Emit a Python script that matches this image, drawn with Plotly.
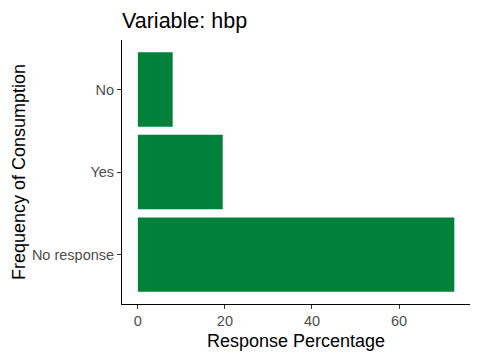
import plotly.graph_objects as go

categories = ["No response", "Yes", "No"]
percentages = [72.7, 19.5, 8.0]
x_ticks = [0, 20, 40, 60]

fig = go.Figure(go.Bar(
    y=categories, x=percentages, orientation="h",
    marker=dict(color="#00813A", line=dict(width=0)), width=0.9,
))

fig.update_layout(
    width=480, height=360,
    margin=dict(l=122, r=10, t=40, b=56),
    plot_bgcolor="white", paper_bgcolor="white",
    font=dict(family="Liberation Sans, Arial", color="black"),
    showlegend=False,
    title=dict(text="Variable: hbp", x=0, xref="paper", xanchor="left",
               y=1 - 20 / 360, yref="container", yanchor="middle",
               font=dict(size=21.5, color="black")),
    xaxis=dict(range=[-3.64, 76.3], tickvals=x_ticks, showgrid=False, zeroline=False,
               showline=True, linecolor="black", linewidth=1,
               ticks="outside", ticklen=4, tickcolor="#333333",
               tickfont=dict(size=14.5, color="#4D4D4D"),
               title=dict(text="Response Percentage", font=dict(size=18, color="black"), standoff=5)),
    yaxis=dict(range=[-0.6, 2.6], categoryorder="array", categoryarray=categories,
               showgrid=False, zeroline=False,
               showline=True, linecolor="black", linewidth=1,
               ticks="outside", ticklen=4, tickcolor="#333333",
               tickfont=dict(size=14.5, color="#4D4D4D"),
               title=dict(text="Frequency of Consumption", font=dict(size=18, color="black"), standoff=1)),
)

fig.write_html("out.html")
